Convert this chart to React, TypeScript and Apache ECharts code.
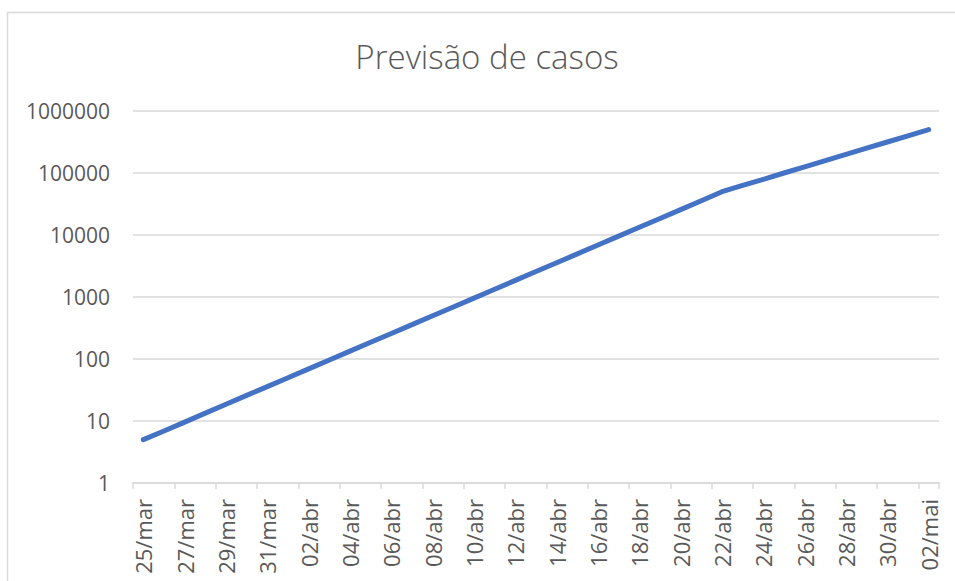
import React, { useEffect, useRef } from "react";
import * as echarts from "echarts";

const categories: string[] = [
  "25/mar", "26/mar", "27/mar", "28/mar", "29/mar", "30/mar", "31/mar",
  "01/abr", "02/abr", "03/abr", "04/abr", "05/abr", "06/abr", "07/abr",
  "08/abr", "09/abr", "10/abr", "11/abr", "12/abr", "13/abr", "14/abr",
  "15/abr", "16/abr", "17/abr", "18/abr", "19/abr", "20/abr", "21/abr",
  "22/abr", "23/abr", "24/abr", "25/abr", "26/abr", "27/abr", "28/abr",
  "29/abr", "30/abr", "01/mai", "02/mai",
];

const casos: number[] = [
  5, 6.9, 9.6, 13.4, 18.6, 25.9, 35.9,
  49.9, 69.3, 96.3, 134, 186, 258, 358,
  498, 691, 960, 1333, 1853, 2574, 3575,
  4966, 6898, 9580, 13307, 18484, 25674, 35661,
  50000, 63000, 79000, 100000, 126000, 158000, 200000,
  251000, 316000, 398000, 500000,
];

const yMin = 1;
const yMax = 1000000;
const chartTitle = "Previsão de casos";

export default function App() {
  const ref = useRef<HTMLDivElement>(null);
  useEffect(() => {
    if (!ref.current) return;
    const chart = echarts.init(ref.current, undefined, { renderer: "svg" });
    const font = "Open Sans";
    chart.setOption({
      animation: false,
      backgroundColor: "#ffffff",
      title: {
        text: chartTitle,
        left: 482,
        textAlign: "center",
        top: 35,
        textStyle: {
          fontFamily: font,
          fontSize: 33,
          fontWeight: 300,
          color: "#595959",
        },
      },
      graphic: [
        {
          type: "rect",
          shape: { x: 7.5, y: 12.5, width: 960, height: 600 },
          style: { fill: "none", stroke: "#d9d9d9", lineWidth: 1.5 },
          silent: true,
          z: -1,
        },
      ],
      grid: { left: 133, right: 16, top: 111, bottom: 98 },
      xAxis: {
        type: "category",
        data: categories,
        boundaryGap: true,
        axisLine: { lineStyle: { color: "#d9d9d9", width: 1.5 } },
        axisTick: {
          show: true,
          interval: 1,
          alignWithLabel: false,
          length: 6,
          lineStyle: { color: "#d9d9d9", width: 1.5 },
        },
        axisLabel: {
          interval: 1,
          rotate: 90,
          margin: 16,
          fontFamily: font,
          fontSize: 22,
          color: "#595959",
        },
        splitLine: { show: false },
      },
      yAxis: {
        type: "log",
        logBase: 10,
        min: yMin,
        max: yMax,
        axisLine: { show: false },
        axisTick: { show: false },
        axisLabel: {
          margin: 23,
          fontFamily: font,
          fontSize: 21,
          color: "#595959",
          formatter: (v: number) => String(Math.round(v)),
        },
        splitLine: { lineStyle: { color: "#d9d9d9", width: 1.5 } },
      },
      series: [
        {
          type: "line",
          data: casos,
          showSymbol: false,
          symbol: "none",
          lineStyle: { color: "#4472C4", width: 5, cap: "round", join: "round" },
          itemStyle: { color: "#4472C4" },
        },
      ],
    });
    return () => chart.dispose();
  }, []);
  return (
    <div
      ref={ref}
      style={{ position: "absolute", left: 0, top: 0, width: 955, height: 581 }}
    />
  );
}
